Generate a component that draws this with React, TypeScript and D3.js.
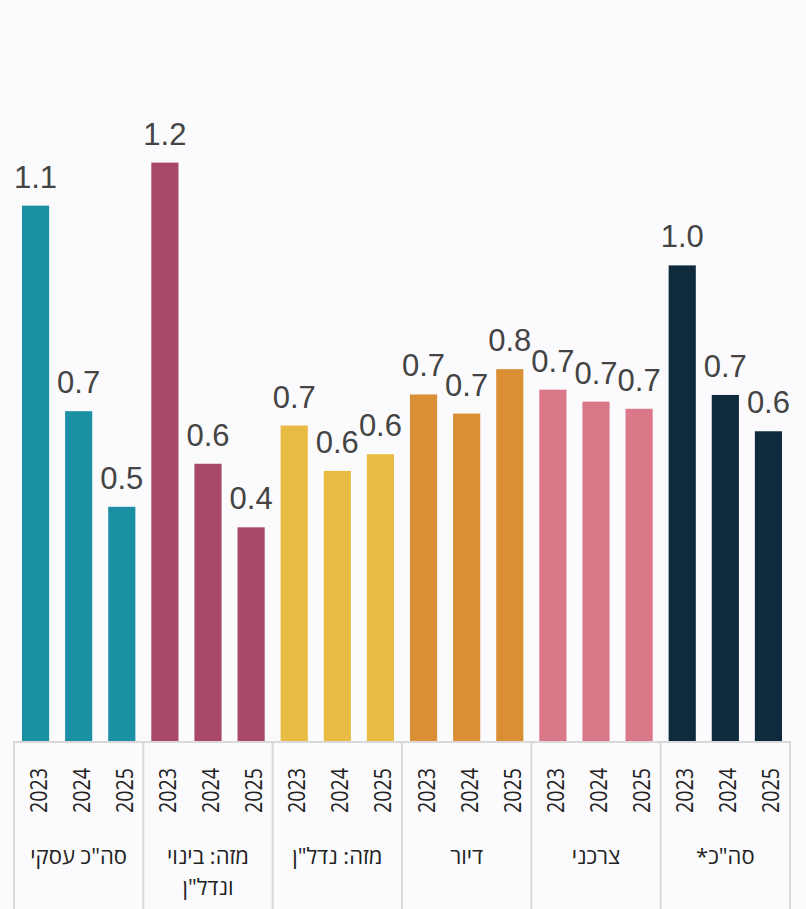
import React from "react";
import * as d3 from "d3";

const groups = ["סה\"כ עסקי", "מזה: בינוי ונדל\"ן", "מזה: נדל\"ן", "דיור", "צרכני", "סה\"כ*"];
const groupLines = [["סה\"כ עסקי"], ["מזה: בינוי", "ונדל\"ן"], ["מזה: נדל\"ן"], ["דיור"], ["צרכני"], ["סה\"כ*"]];
const years = ["2023", "2024", "2025"];
const colors = ["#1b90a4", "#a9476a", "#e8bb43", "#da8f35", "#da788a", "#0f2a3c"];
const values = [
  [1.12, 0.69, 0.49],
  [1.21, 0.58, 0.447],
  [0.66, 0.565, 0.6],
  [0.725, 0.685, 0.778],
  [0.735, 0.71, 0.695],
  [0.995, 0.724, 0.648],
];

export default function App() {
  const W = 806, H = 909;
  const left = 14, right = 790, base = 741;
  const items = groups.flatMap((g, gi) => years.map((y, yi) => ({ key: gi + "-" + yi, gi, yi, v: values[gi][yi] })));
  const x = d3.scaleBand<string>().domain(items.map(d => d.key)).range([left, right]).paddingInner(0.37).paddingOuter(0.185);
  const y = d3.scaleLinear().domain([0, 1.3]).range([base, base - 1.3 * 478]);
  const gx = d3.scaleBand<number>().domain(groups.map((_, i) => i)).range([left, right]);
  return (
    <svg width={W} height={H} style={{ position: "absolute", left: 0, top: 0, background: "#fbfbfd" }}>
      <rect width={W} height={H} fill="#fbfbfd" />
      {items.map(d => (
        <g key={d.key}>
          <rect x={x(d.key)} y={y(d.v)} width={x.bandwidth()} height={base - y(d.v)} fill={colors[d.gi]} />
          <text x={x(d.key)! + x.bandwidth() / 2} y={y(d.v) - 18} textAnchor="middle" fontFamily="'Liberation Sans', Arial, sans-serif" fontSize={31} fill="#444">{d.v.toFixed(1)}</text>
          <text transform={`translate(${x(d.key)! + x.bandwidth() / 2 + 11},768) rotate(-90)`} textAnchor="end" fontFamily="'Open Sans', sans-serif" fontSize={23} textLength={45} lengthAdjust="spacingAndGlyphs" fill="#222">{years[d.yi]}</text>
        </g>
      ))}
      <line x1={left} x2={right} y1={base + 1} y2={base + 1} stroke="#d9d9d9" strokeWidth={2} />
      {d3.range(groups.length + 1).map(i => {
        const xx = i < groups.length ? gx(i)! : right;
        return <line key={i} x1={xx} x2={xx} y1={base} y2={H} stroke="#d9d9d9" strokeWidth={2} />;
      })}
      {groupLines.map((lines, gi) => (
        <text key={gi} x={gx(gi)! + gx.bandwidth() / 2} y={864} textAnchor="middle" direction="rtl" fontFamily="'Open Sans', sans-serif" fontSize={22} fill="#222">
          {lines.map((l, li) => (
            <tspan key={li} x={gx(gi)! + gx.bandwidth() / 2} dy={li === 0 ? 0 : 31}>{l}</tspan>
          ))}
        </text>
      ))}
    </svg>
  );
}
